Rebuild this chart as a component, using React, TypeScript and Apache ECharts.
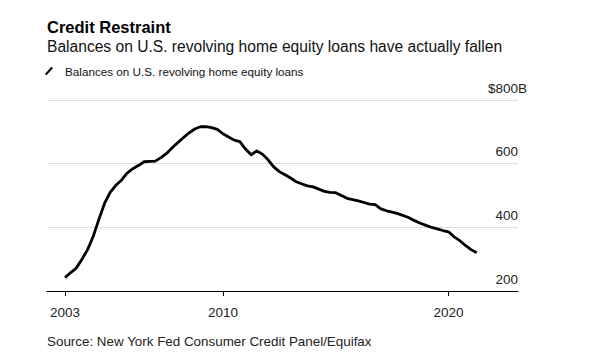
import React, { useEffect, useRef } from "react";
import * as echarts from "echarts";

// Quarterly balances, $ billions, 2003 Q1 .. 2021 Q2
const startYear = 2003;
const balances = [
  242, 258, 272, 300, 330, 372, 425, 475, 510, 532, 548, 570, 584, 594, 606, 607,
  608, 619, 632, 650, 666, 682, 697, 709, 716, 716, 713, 708, 694, 684, 674, 669,
  646, 628, 640, 630, 612, 590, 575, 565, 555, 543, 536, 530, 527, 520, 513, 510,
  509, 500, 491, 487, 483, 478, 473, 471, 458, 452, 448, 443, 437, 430, 421, 413,
  406, 400, 395, 390, 386, 370, 358, 343, 330, 320,
];
const xTicks = [2003, 2010, 2020];
const yTicks = [200, 400, 600, 800];

const titleText = "Credit Restraint";
const subtitleText = "Balances on U.S. revolving home equity loans have actually fallen";
const seriesName = "Balances on U.S. revolving home equity loans";
const sourceText = "Source: New York Fed Consumer Credit Panel/Equifax";

const FONT = "Liberation Sans, Arial, sans-serif";

export default function App() {
  const ref = useRef<HTMLDivElement>(null);
  useEffect(() => {
    if (!ref.current) return;
    const chart = echarts.init(ref.current, null, { renderer: "svg" });
    const data = balances.map((v, i) => [startYear + i / 4, v]);
    chart.setOption({
      animation: false,
      backgroundColor: "#fff",
      textStyle: { fontFamily: FONT },
      title: [
        {
          text: titleText,
          left: 47,
          top: 18,
          padding: 0,
          textStyle: { fontSize: 16.5, fontWeight: "bold", color: "#000", fontFamily: FONT },
        },
        {
          text: subtitleText,
          left: 47,
          top: 38,
          padding: 0,
          textStyle: { fontSize: 15.6, fontWeight: "normal", color: "#111", fontFamily: FONT },
        },
        {
          text: sourceText,
          left: 47,
          top: 335,
          padding: 0,
          textStyle: { fontSize: 13.4, fontWeight: "normal", color: "#222", fontFamily: FONT },
        },
      ],
      legend: {
        data: [seriesName],
        left: 45,
        top: 65,
        padding: 0,
        itemWidth: 8,
        itemHeight: 10,
        icon: "path://M0,10L8,1L10,2.5L2,11.5Z",
        textStyle: { fontSize: 11.7, color: "#111", fontFamily: FONT, padding: [0, 0, 0, 7] },
        selectedMode: false,
      },
      grid: { left: 47, right: 93, top: 100, bottom: 67, containLabel: false, outerBoundsMode: "none" },
      xAxis: {
        type: "value",
        min: 2002.2,
        max: 2023.08,
        axisLine: { show: true, lineStyle: { color: "#000", width: 1.2 } },
        axisTick: { show: true, length: 5, lineStyle: { color: "#000", width: 1 }, customValues: xTicks },
        axisLabel: {
          show: true,
          customValues: xTicks,
          margin: 14,
          fontSize: 13.5,
          color: "#222",
          fontFamily: FONT,
          formatter: (v: number) => String(v),
        },
        splitLine: { show: false },
      },
      yAxis: {
        type: "value",
        position: "right",
        min: 200,
        max: 800,
        interval: 200,
        axisLine: { show: false },
        axisTick: { show: false },
        splitLine: { show: true, lineStyle: { color: "#dedede", width: 1.2 } },
        axisLabel: {
          inside: true,
          margin: -9,
          verticalAlign: "bottom",
          fontSize: 13.5,
          color: "#222",
          fontFamily: FONT,
          formatter: (v: number) => (v === yTicks[yTicks.length - 1] ? `{top|$${v}B}` : `{n|${v}}`),
          rich: {
            top: { fontSize: 13.5, color: "#222", fontFamily: FONT, padding: [0, 0, 5, 0] },
            n: { fontSize: 13.5, color: "#222", fontFamily: FONT, padding: [0, 9, 5, 0] },
          },
        },
      },
      series: [
        {
          name: seriesName,
          type: "line",
          data,
          showSymbol: false,
          symbol: "none",
          lineStyle: { color: "#000", width: 2.8, join: "round" },
          itemStyle: { color: "#000" },
        },
      ],
    });
    return () => chart.dispose();
  }, []);
  return (
    <div
      ref={ref}
      style={{ position: "fixed", left: 0, top: 0, width: 611, height: 358, background: "#fff" }}
    />
  );
}
